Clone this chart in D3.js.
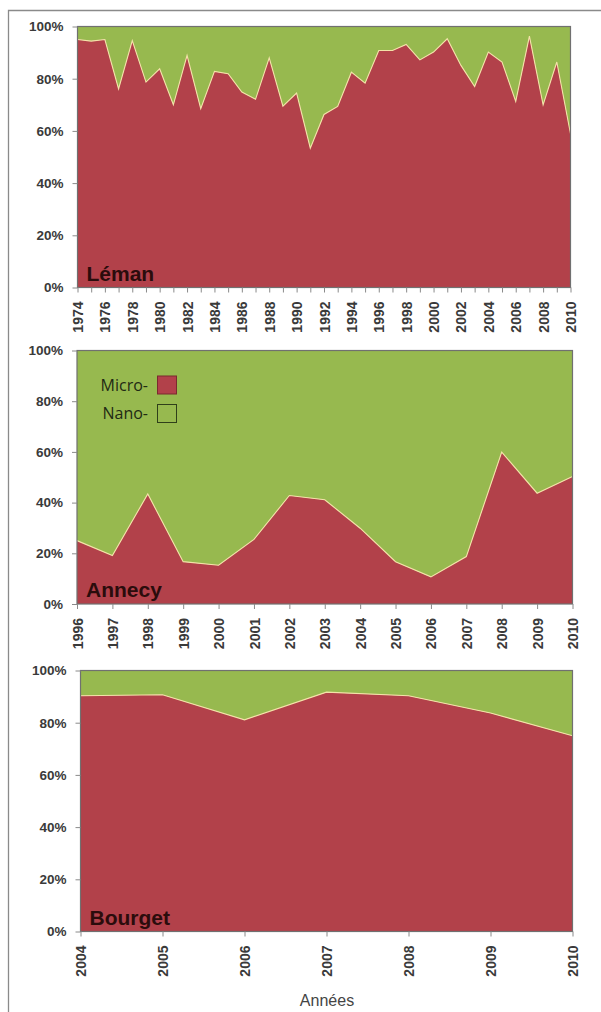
<!DOCTYPE html>
<html><head><meta charset="utf-8">
<script src="https://cdn.jsdelivr.net/npm/d3@7"></script>
<style>
html,body{margin:0;padding:0;background:#fff;}
svg{display:block;}
</style></head>
<body>
<svg id="c" width="601" height="1012"></svg>
<script>
// ---------- DATA ----------
const lemanYears = [1974,1975,1976,1977,1978,1979,1980,1981,1982,1983,1984,1985,1986,1987,1988,1989,1990,1991,1992,1993,1994,1995,1996,1997,1998,1999,2000,2001,2002,2003,2004,2005,2006,2007,2008,2009,2010];
const lemanMicro = [95.0,94.4,95.0,76.1,94.6,78.7,83.8,70.0,88.9,68.5,82.8,81.9,74.9,72.1,88.0,69.5,74.5,53.4,66.3,69.4,82.5,78.3,90.8,90.8,93.1,87.2,90.2,95.3,85.1,77.0,90.2,86.4,71.3,96.3,70.0,86.4,58.9];
const lemanNano  = [5.0,5.6,5.0,23.9,5.4,21.3,16.2,30.0,11.1,31.5,17.2,18.1,25.1,27.9,12.0,30.5,25.5,46.6,33.7,30.6,17.5,21.7,9.2,9.2,6.9,12.8,9.8,4.7,14.9,23.0,9.8,13.6,28.7,3.7,30.0,13.6,41.1];
const lemanTickLabels = [1974,1976,1978,1980,1982,1984,1986,1988,1990,1992,1994,1996,1998,2000,2002,2004,2006,2008,2010];

const annecyYears = [1996,1997,1998,1999,2000,2001,2002,2003,2004,2005,2006,2007,2008,2009,2010];
const annecyMicro = [25.0,19.1,43.4,16.7,15.3,25.5,42.8,41.1,29.9,16.7,10.7,18.7,59.9,43.7,50.3];
const annecyNano  = [75.0,80.9,56.6,83.3,84.7,74.5,57.2,58.9,70.1,83.3,89.3,81.3,40.1,56.3,49.7];

const bourgetYears = [2004,2005,2006,2007,2008,2009,2010];
const bourgetMicro = [90.3,90.7,81.1,91.7,90.3,83.7,75.0];
const bourgetNano  = [9.7,9.3,18.9,8.3,9.7,16.3,25.0];

const percentTicks = [0,20,40,60,80,100];
const seriesNames = ["Micro-","Nano-"];
const lakeNames = ["Léman","Annecy","Bourget"];
const xAxisTitle = "Années";

// ---------- STYLE ----------
const RED = "#b2414a", GREEN = "#97b94f", EDGE = "#f3e3a8";
const svg = d3.select("#c");

// outer frame (left + top)
svg.append("path").attr("d","M8.5,1012 V10.5 H601").attr("fill","none")
  .attr("stroke","#8a8a8a").attr("stroke-width",1.3);

const panels = [
  {name:lakeNames[0], years:lemanYears, micro:lemanMicro, nano:lemanNano, ticks:lemanTickLabels,
   l:77.5, r:570.5, t:26.5, b:287.5},
  {name:lakeNames[1], years:annecyYears, micro:annecyMicro, nano:annecyNano, ticks:annecyYears,
   l:77, r:572.5, t:350.5, b:604, legend:true},
  {name:lakeNames[2], years:bourgetYears, micro:bourgetMicro, nano:bourgetNano, ticks:bourgetYears,
   l:80.5, r:572.5, t:670.5, b:931.5}
];

panels.forEach(p => {
  const g = svg.append("g");
  const x = d3.scaleLinear().domain(d3.extent(p.years)).range([p.l, p.r]);
  const y = d3.scaleLinear().domain([0,100]).range([p.b, p.t]);
  const rows = p.years.map((yr,i)=>({year:yr, micro:p.micro[i], nano:p.nano[i]}));
  const stack = d3.stack().keys(["micro","nano"])(rows);

  const area = d3.area().x(d=>x(d.data.year)).y0(d=>y(d[0])).y1(d=>y(d[1]));
  g.append("path").datum(stack[1]).attr("d", area).attr("fill", GREEN);
  g.append("path").datum(stack[0]).attr("d", area).attr("fill", RED);
  g.append("path").datum(stack[0])
    .attr("d", d3.line().x(d=>x(d.data.year)).y(d=>y(d[1])))
    .attr("fill","none").attr("stroke",EDGE).attr("stroke-width",1.1);

  // plot frame
  g.append("rect").attr("x",p.l).attr("y",p.t).attr("width",p.r-p.l).attr("height",p.b-p.t)
    .attr("fill","none").attr("stroke","#707070").attr("stroke-width",1.2);

  // y axis
  const ya = g.append("g").attr("transform",`translate(${p.l},0)`)
    .call(d3.axisLeft(y).tickValues(percentTicks).tickSize(5).tickPadding(9).tickFormat(d=>d+"%"));
  ya.select(".domain").remove();
  ya.selectAll("line").attr("stroke","#8a8a8a");
  ya.selectAll("text").attr("font-family","Liberation Sans, Arial, sans-serif")
    .attr("font-size",13.5).attr("font-weight","bold").attr("fill","#3a3a3a");

  // x axis
  const xa = g.append("g").attr("transform",`translate(0,${p.b})`)
    .call(d3.axisBottom(x).tickValues(p.years).tickSize(5).tickFormat(d=>p.ticks.includes(d)?String(d):""));
  xa.select(".domain").remove();
  xa.selectAll("line").attr("stroke","#8a8a8a");
  xa.selectAll("text")
    .attr("font-family","Liberation Sans, Arial, sans-serif")
    .attr("font-size",14).attr("font-weight","bold").attr("fill","#3a3a3a")
    .attr("text-anchor","end")
    .attr("transform","rotate(-90)")
    .attr("x",-14).attr("y",0).attr("dy","0.36em");

  // lake label
  g.append("text").attr("x",p.l+9).attr("y",p.b-7).text(p.name)
    .attr("font-family","Liberation Sans, Arial, sans-serif").attr("font-weight","bold")
    .attr("font-size",21).attr("fill","#2b0c0c");

  if (p.legend) {
    const lg = g.append("g");
    const colors = [RED, GREEN];
    seriesNames.forEach((s,i)=>{
      const cy = 385 + i*28.5;
      lg.append("rect").attr("x",157.5).attr("y",cy-9).attr("width",19).attr("height",18)
        .attr("fill",colors[i]).attr("stroke", i===0 ? "#7a2a2e" : "#2f3f1a").attr("stroke-width",1);
      lg.append("text").attr("x",148).attr("y",cy).attr("dy","0.36em").attr("text-anchor","end")
        .text(s).attr("font-family","Open Sans, Noto Sans, sans-serif").attr("font-size",16)
        .attr("fill","#1f2a14");
    });
  }
});

svg.append("text").attr("x",327).attr("y",1006).attr("text-anchor","middle").text(xAxisTitle)
  .attr("font-family","Liberation Sans, Arial, sans-serif").attr("font-size",16).attr("fill","#444");
</script>
</body></html>
